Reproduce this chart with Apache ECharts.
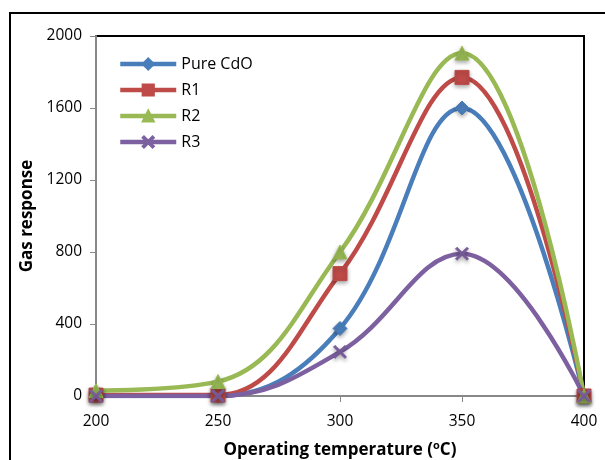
<!DOCTYPE html>
<html>
<head>
<meta charset="utf-8">
<script src="https://cdn.jsdelivr.net/npm/echarts@6/dist/echarts.min.js"></script>
<style>
  html, body { margin: 0; padding: 0; background: #fff; }
  #main { width: 605px; height: 460px; }
</style>
</head>
<body>
<div id="main"></div>
<script>
const temps = [200, 250, 300, 350, 400];
const pureCdO = [0, 0, 375, 1600, 0];
const r1 = [5, 5, 680, 1770, 0];
const r2 = [30, 80, 800, 1905, 0];
const r3 = [0, 0, 245, 790, 0];

const font = "'Open Sans', Lato, sans-serif";
const xShape = 'path://M0,1.2L1.2,0L5,3.8L8.8,0L10,1.2L6.2,5L10,8.8L8.8,10L5,6.2L1.2,10L0,8.8L3.8,5Z';

const pairs = (ys) => temps.map((t, i) => [t, ys[i]]);

const mkSeries = (name, ys, color, symbol, size) => ({
  name: name,
  type: 'line',
  data: pairs(ys),
  smooth: 0.4,
  symbol: symbol,
  symbolSize: size,
  color: color,
  lineStyle: { color: color, width: 4.5 },
  itemStyle: {
    color: color,
    borderColor: color,
    borderWidth: 1,
    shadowColor: 'rgba(0,0,0,0.35)',
    shadowBlur: 4,
    shadowOffsetY: 2
  },
  emphasis: { disabled: true }
});

const myChart = echarts.init(document.getElementById('main'));
const option = {
  animation: false,
  textStyle: { fontFamily: font },
  graphic: [{
    type: 'rect',
    shape: { x: 10, y: 13, width: 620, height: 480 },
    style: { fill: 'none', stroke: '#000', lineWidth: 2 },
    z: -1
  }],
  legend: {
    left: 113,
    top: 51,
    orient: 'vertical',
    itemWidth: 56,
    itemHeight: 14,
    itemGap: 10,
    lineStyle: { width: 4.5 },
    textStyle: { fontFamily: font, fontSize: 16, color: '#000' },
    data: ['Pure CdO', 'R1', 'R2', 'R3']
  },
  grid: {
    left: 96,
    top: 36,
    right: 21,
    bottom: 64,
    show: true,
    borderColor: '#000',
    borderWidth: 2,
    containLabel: false,
    outerBoundsMode: 'none'
  },
  xAxis: {
    type: 'value',
    min: 200,
    max: 400,
    interval: 50,
    name: '{a|Operating temperature (}{s|o}{a|C)}',
    nameLocation: 'middle',
    nameGap: 43,
    nameTextStyle: {
      rich: {
        a: { fontFamily: font, fontSize: 17, fontWeight: 'bold', color: '#000', lineHeight: 22 },
        s: { fontFamily: font, fontSize: 11, fontWeight: 'bold', color: '#000', lineHeight: 22, padding: [0, 0, 9, 0] }
      }
    },
    axisLine: { show: true, lineStyle: { color: '#888', width: 2 } },
    axisTick: { show: true, length: 6, lineStyle: { color: '#888', width: 1 } },
    axisLabel: { fontFamily: font, fontSize: 15.5, color: '#000', margin: 18 },
    splitLine: { show: false }
  },
  yAxis: {
    type: 'value',
    min: 0,
    max: 2000,
    interval: 400,
    name: 'Gas response',
    nameLocation: 'middle',
    nameGap: 60,
    nameTextStyle: { fontFamily: font, fontSize: 17, fontWeight: 'bold', color: '#000' },
    axisLine: { show: true, lineStyle: { color: '#888', width: 2 } },
    axisTick: { show: true, length: 6, lineStyle: { color: '#888', width: 1 } },
    axisLabel: { fontFamily: font, fontSize: 15.5, color: '#000', margin: 14, formatter: (v) => String(v) },
    splitLine: { show: false }
  },
  series: [
    mkSeries('Pure CdO', pureCdO, '#4a7ebb', 'diamond', 14),
    mkSeries('R1', r1, '#be4b48', 'rect', 14),
    mkSeries('R2', r2, '#98b954', 'triangle', 14),
    mkSeries('R3', r3, '#7d60a0', xShape, 13)
  ]
};
myChart.setOption(option);
</script>
</body>
</html>
